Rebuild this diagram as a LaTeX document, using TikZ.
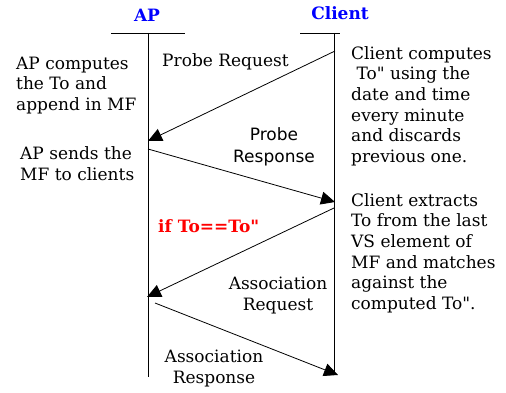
\documentclass[tikz,border=0pt]{standalone}
\usepackage{fontspec}
\setmainfont{DejaVu Serif}
% families without the TeX quote mapping, so " stays a straight double quote
\newfontfamily\plainserif{DejaVu Serif}
\newfontfamily\sansfam{DejaVu Sans}
\usetikzlibrary{arrows.meta}
\begin{document}
\begin{tikzpicture}[x=1pt,y=-1pt,
  body/.style={font=\fontsize{17}{20.7}\selectfont\plainserif, inner sep=0pt},
  leftnote/.style={body, align=left, anchor=base west},
  msglabel/.style={body, align=center, anchor=base},
  header/.style={font=\fontsize{17}{20}\selectfont\plainserif\bfseries, text=blue, inner sep=0pt, anchor=base},
  lifeline/.style={line width=0.9pt},
  msg/.style={line width=0.8pt, -{Triangle[length=14pt,width=13pt]}}
]
\useasboundingbox (0,0) rectangle (506,393);

% participants
\node[header] (ap) at (147,22) {AP};
\node[header] (client) at (340,20) {Client};
\draw[lifeline] (111,33) -- (185,33);
\draw[lifeline] (300,33) -- (340,33);
\coordinate (apTop) at (148,33);
\coordinate (apBot) at (148,377);
\coordinate (clTop) at (334,33);
\coordinate (clBot) at (334,375);
\draw[lifeline] (apTop) -- (apBot);
\draw[lifeline] (clTop) -- (clBot);

% message end points
\coordinate (m1s) at (335,51);
\coordinate (m1e) at (148,141);
\coordinate (m2s) at (148,149);
\coordinate (m2e) at (335,202);
\coordinate (m3s) at (334,208);
\coordinate (m3e) at (147,297);
\coordinate (m4s) at (155,303);
\coordinate (m4e) at (338,375);

\draw[msg] (m1s) -- (m1e);
\draw[msg] (m2s) -- (m2e);
\draw[msg] (m3s) -- (m3e);
\draw[msg] (m4s) -- (m4e);

% message labels (anchored on the baseline of their last line)
\node[body, anchor=base west] (l1) at (162,67) {Probe Request};
\node[msglabel, font=\fontsize{17}{22}\selectfont\sansfam] (l2) at (274,163) {Probe\\Response};
\node[body, anchor=base west, font=\fontsize{17}{20}\selectfont\plainserif\bfseries, text=red] (cond) at (158,232) {if To==To"};
\node[msglabel] (l3) at (278,310.5) {Association\\Request};
\node[msglabel] (l4) at (214,383.5) {Association\\Response};

% side notes (anchored on the baseline of their last line)
\node[leftnote] (n1) at (16,110.5) {AP computes\\the To and\\append in MF};
\node[leftnote] (n2) at (20,180) {AP sends the\\MF to clients};
\node[leftnote] (n3) at (351,162.5) {Client computes\\\ To" using the\\date and time\\every minute\\and discards\\previous one.};
\node[leftnote] (n4) at (351,309.5) {Client extracts\\To from the last\\VS element of\\MF and matches\\against the\\computed To".};
\end{tikzpicture}
\end{document}
